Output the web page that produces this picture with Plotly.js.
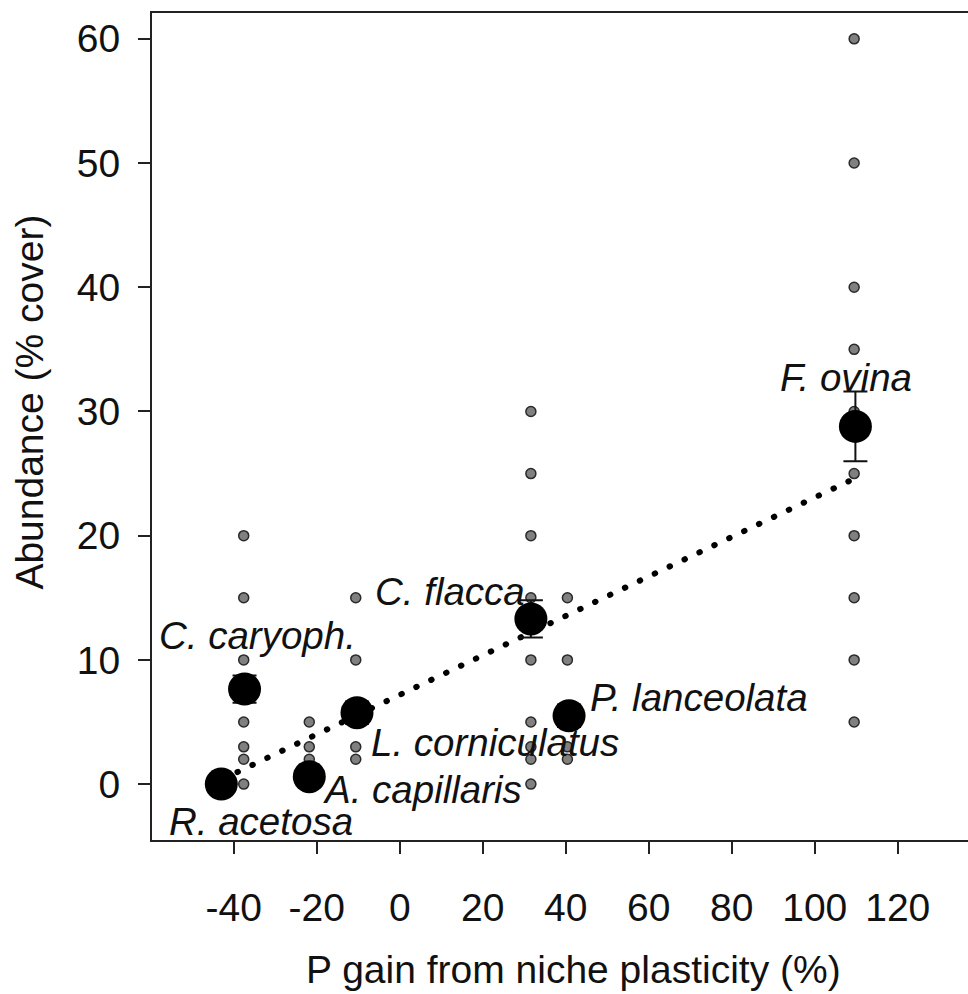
<!DOCTYPE html>
<html><head><meta charset="utf-8">
<script src="https://cdn.plot.ly/plotly-3.0.1.min.js"></script>
<style>
html,body{margin:0;padding:0;overflow:hidden;background:#fff;}
#chart{width:1000px;height:994px;}
.scatterlayer .trace path.js-line{stroke-linecap:round;}
</style></head><body><div id="chart"></div>
<script>
// Species (means with SE)
const species = ["R. acetosa","C. caryoph.","A. capillaris","L. corniculatus","C. flacca","P. lanceolata","F. ovina"];
const pGain = [-43.0, -37.4, -21.8, -10.3, 31.6, 40.8, 109.8];
const meanCover = [0.0, 7.65, 0.6, 5.75, 13.3, 5.5, 28.8];
const seCover = [0.5, 1.1, 0.8, 0.9, 1.5, 0.9, 2.8];

// Individual observations per species (% cover)
const obsRacetosa = [0];
const obsCcaryoph = [20, 15, 10, 5, 3, 2, 0];
const obsAcapillaris = [5, 3, 2, 0];
const obsLcorniculatus = [15, 10, 3, 2];
const obsCflacca = [30, 25, 20, 15, 10, 5, 3, 2, 0];
const obsPlanceolata = [15, 10, 3, 2];
const obsFovina = [60, 50, 40, 35, 30, 25, 20, 15, 10, 5];
const obsX = [-43.0, -37.6, -21.8, -10.6, 31.6, 40.4, 109.5];

// Fitted trend line end points
const trendX = [-42.7, 109.6];
const trendY = [0.4, 24.6];

const xTicks = [-40, -20, 0, 20, 40, 60, 80, 100, 120];
const yTicks = [0, 10, 20, 30, 40, 50, 60];

const FONT = "Liberation Sans, Arial, Helvetica, sans-serif";

const obsLists = [obsRacetosa, obsCcaryoph, obsAcapillaris, obsLcorniculatus, obsCflacca, obsPlanceolata, obsFovina];
const ox = [], oy = [];
obsLists.forEach((arr, i) => arr.forEach(v => { ox.push(obsX[i]); oy.push(v); }));

const traces = [
  {x: ox, y: oy, type: 'scatter', mode: 'markers',
   marker: {size: 10, color: '#808080', line: {color: '#2a2a2a', width: 1.5}}, hoverinfo: 'skip'},
  {x: trendX, y: trendY, type: 'scatter', mode: 'lines',
   line: {color: '#000', width: 6, dash: '0.5px,16px'}, hoverinfo: 'skip'},
  {x: pGain, y: meanCover, type: 'scatter', mode: 'markers',
   marker: {size: 33, color: '#000'},
   error_y: {type: 'data', array: seCover, visible: true, color: '#111', thickness: 2, width: 12}}
];

// label placement (pixel offsets from each species point)
const labelPlace = [
  {xa: 'left', dx: -54, dy: -37},
  {xa: 'left', dx: -88, dy: 54},
  {xa: 'left', dx: 12, dy: -13},
  {xa: 'left', dx: 12, dy: -30},
  {xa: 'right', dx: -4, dy: 27},
  {xa: 'left', dx: 19, dy: 18},
  {xa: 'center', dx: -9, dy: 49}
];

const annotations = species.map((s, i) => ({
  x: pGain[i], y: meanCover[i], xref: 'x', yref: 'y', text: s, showarrow: false,
  xanchor: labelPlace[i].xa, yanchor: 'middle', xshift: labelPlace[i].dx, yshift: labelPlace[i].dy,
  font: {family: FONT, size: 38.5, color: '#111', style: 'italic'}
}));
annotations.push({
  text: 'P gain from niche plasticity (%)', xref: 'paper', yref: 'paper', x: 0.5, y: -0.156,
  xanchor: 'center', yanchor: 'middle', showarrow: false, font: {family: FONT, size: 39, color: '#111'}
});
annotations.push({
  text: 'Abundance (% cover)', xref: 'paper', yref: 'paper', x: -0.145, y: 0.53, textangle: -90,
  xanchor: 'center', yanchor: 'middle', showarrow: false, font: {family: FONT, size: 39, color: '#111'}
});

const layout = {
  width: 1000, height: 994,
  margin: {l: 152, r: 6, t: 13, b: 154},
  paper_bgcolor: '#fff', plot_bgcolor: '#fff',
  showlegend: false,
  font: {family: FONT, size: 39, color: '#111'},
  xaxis: {range: [-59.7, 143.2], tickvals: xTicks, ticktext: xTicks.map(String),
    ticks: 'outside', ticklen: 12, tickwidth: 2, tickcolor: '#222',
    showline: true, mirror: true, linecolor: '#222', linewidth: 2,
    showgrid: false, zeroline: false, ticklabelstandoff: 20,
    tickfont: {family: FONT, size: 39, color: '#111'}},
  yaxis: {range: [-4.5, 62.08], tickvals: yTicks, ticktext: yTicks.map(String),
    ticks: 'outside', ticklen: 12, tickwidth: 2, tickcolor: '#222',
    showline: true, mirror: true, linecolor: '#222', linewidth: 2,
    showgrid: false, zeroline: false, ticklabelstandoff: 10,
    tickfont: {family: FONT, size: 39, color: '#111'}},
  annotations: annotations
};

Plotly.newPlot('chart', traces, layout, {displayModeBar: false, staticPlot: true});
</script></body></html>
